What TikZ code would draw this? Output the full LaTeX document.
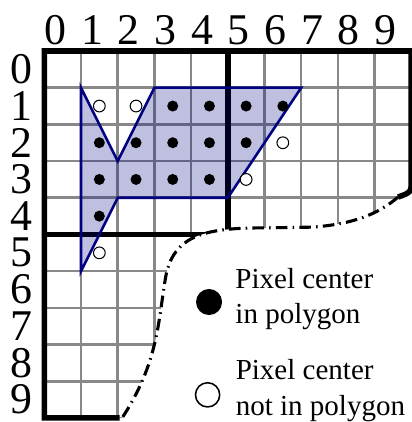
\documentclass[tikz,border=0pt]{standalone}
\usepackage{fontspec}
\setmainfont{Liberation Serif}
\usepackage{xcolor}
\usepackage{tikz}
\usetikzlibrary{positioning}
\definecolor{polynavy}{HTML}{000080}
\definecolor{gridgray}{HTML}{888888}
\tikzset{
  gridline/.style={draw=gridgray,line width=2pt},
  border/.style={draw=black,line width=4.3pt},
  cutline/.style={draw=black,line width=2.4pt,dash pattern=on 9pt off 4pt on 1.2pt off 4pt},
  polyfill/.style={fill=polynavy,fill opacity=0.25},
  polyedge/.style={draw=polynavy,line width=2pt},
  indot/.style={fill=black},
  outdot/.style={draw=black,fill=white,line width=0.8pt},
  axislabel/.style={font=\fontsize{34}{34}\selectfont,inner sep=0pt},
  legendmark/.style={circle,inner sep=0pt,minimum size=0.7cm},
  legendtext/.style={font=\fontsize{22.5}{27.2}\selectfont,align=left,inner sep=0pt}
}

\begin{document}
\begin{tikzpicture}[x=1cm,y=-1cm]
\useasboundingbox (-1.207,-1.39) rectangle (10.02,10.11);
\begin{scope}
\clip (0,0) -- (10,0) -- (10,3.5) .. controls (10,3.85) .. (9.64,3.98)
  .. controls (9.1,4.45) and (8.4,4.72) .. (7.3,4.8) -- (6,4.82)
  .. controls (4.4,4.82) and (3.5,5.0) .. (3.3,6.2)
  .. controls (3.1,7.4) and (3.1,8.5) .. (2.12,10) -- (0,10) -- cycle;
\draw[gridline] (0,0) grid (10,10);
\draw[border] (5,0) -- (5,5);
\draw[border] (0,5) -- (5,5);
\end{scope}
\fill[polyfill] (1,1) -- (2,3) -- (3,1) -- (7,1) -- (5,4) -- (2,4) -- (1,6) -- cycle;
\draw[polyedge] (1,1) -- (2,3) -- (3,1) -- (7,1) -- (5,4) -- (2,4) -- (1,6) -- cycle;
\draw[border] (2.05,10) -- (0,10) -- (0,0) -- (10,0) -- (10,3.5) .. controls (10,3.85) .. (9.64,3.98);
\draw[cutline] (9.64,3.98) .. controls (9.1,4.45) and (8.4,4.72) .. (7.3,4.8) -- (6,4.82)
  .. controls (4.4,4.82) and (3.5,5.0) .. (3.3,6.2)
  .. controls (3.1,7.4) and (3.1,8.5) .. (2.12,10);
\foreach \c/\r in {3/1,4/1,5/1,6/1,1/2,2/2,3/2,4/2,5/2,1/3,2/3,3/3,4/3,1/4}
  \fill[indot] (\c+0.5,\r+0.5) circle (0.15);
\foreach \c/\r in {1/1,2/1,6/2,5/3,1/5}
  \filldraw[outdot] (\c+0.5,\r+0.5) circle (0.16);
\foreach \i in {0,...,9} {
  \node[axislabel,anchor=base] (col\i) at (\i+0.3,-0.19) {\i};
  \node[axislabel] (row\i) at (-0.61,\i+0.5) {\i};
}
\node[legendmark,fill=black,minimum size=0.71cm] (inmark) at (4.49,6.84) {};
\node[legendmark,draw=black,line width=1.2pt,minimum size=0.66cm] (outmark) at (4.45,9.37) {};
\node[legendtext,right=0.35cm of inmark,yshift=2.5pt] (intext) {Pixel center\\in polygon};
\node[legendtext,right=0.41cm of outmark,yshift=3.3pt] (outtext) {Pixel center\\not in polygon};
\end{tikzpicture}
\end{document}
